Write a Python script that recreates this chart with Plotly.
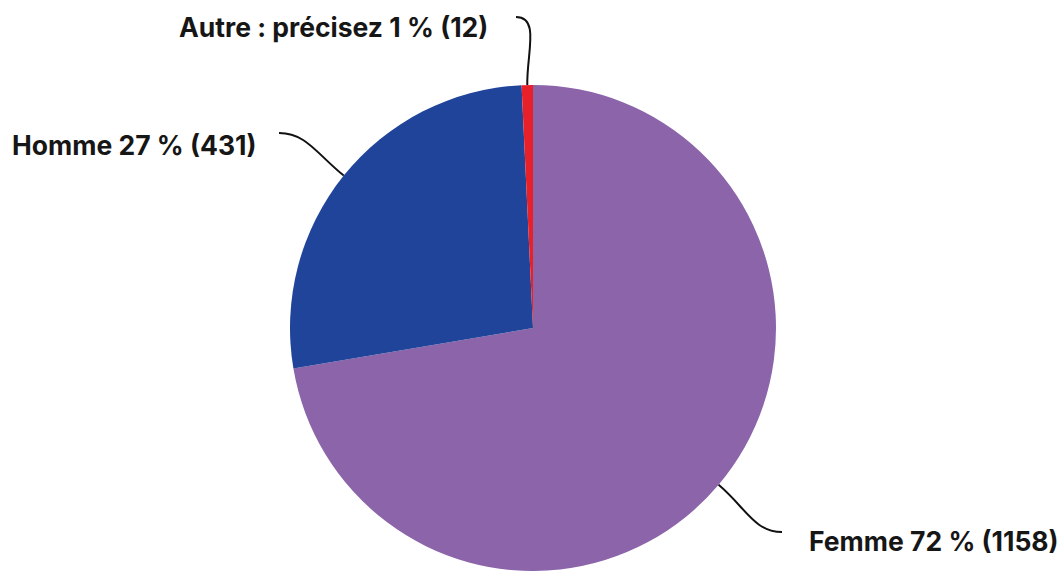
import math
import plotly.graph_objects as go

# Data
categories = ["Femme", "Homme", "Autre : précisez"]
values = [1158, 431, 12]
colors = ["#8C64AA", "#1F4499", "#E8202A"]

W, H = 1060, 571
# pie geometry (pixels)
CX, CY, R = 533, 328, 243

# label / leader layout (pixels): leader end point, label anchor, side
leader_ends = [(782, 532), (279, 133), (516, 17)]
label_pos = [(807, 541, "left"), (258, 145, "right"), (490, 27, "right")]

total = sum(values)
fig = go.Figure(go.Pie(
    labels=categories, values=values, sort=False, direction="clockwise",
    rotation=0, marker=dict(colors=colors, line=dict(width=0)),
    textinfo="none", hoverinfo="label+value+percent", showlegend=False,
    domain=dict(x=[(CX - R) / W, (CX + R) / W], y=[(H - CY - R) / H, (H - CY + R) / H]),
))

def px(x, y):
    return x / W, 1 - y / H

shapes, annotations = [], []
cum = 0
for i, v in enumerate(values):
    mid = (cum + v / 2) / total * 2 * math.pi
    cum += v
    sx, sy = CX + R * math.sin(mid), CY - R * math.cos(mid)
    dx, dy = math.sin(mid), -math.cos(mid)
    ex, ey = leader_ends[i]
    dist = math.hypot(ex - sx, ey - sy)
    c1 = (sx + dx * dist * 0.45, sy + dy * dist * 0.45)
    hdir = 1 if ex > sx else -1
    c2 = (ex - hdir * dist * 0.35, ey)
    pts = [px(sx, sy), px(*c1), px(*c2), px(ex, ey)]
    path = "M {:.5f},{:.5f} C {:.5f},{:.5f} {:.5f},{:.5f} {:.5f},{:.5f}".format(
        *[c for p in pts for c in p])
    shapes.append(dict(type="path", path=path, xref="paper", yref="paper",
                       line=dict(color="#111111", width=2)))
    pct = round(v / total * 100)
    lx, ly, side = label_pos[i]
    x0, y0 = px(lx, ly)
    annotations.append(dict(
        x=x0, y=y0, xref="paper", yref="paper", xanchor=side, yanchor="middle",
        text=f"{categories[i]} {pct} % ({v})", showarrow=False,
        font=dict(family="Inter", size=26.5, color="#161616", weight=700)))

fig.update_layout(
    width=W, height=H, margin=dict(l=0, r=0, t=0, b=0),
    paper_bgcolor="white", plot_bgcolor="white",
    shapes=shapes, annotations=annotations,
)
fig.write_html("out.html")
